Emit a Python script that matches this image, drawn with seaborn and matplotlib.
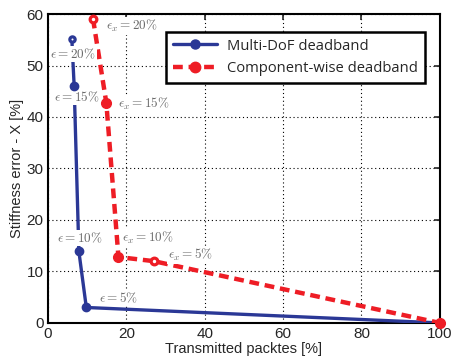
import matplotlib
matplotlib.use("Agg")
import matplotlib.pyplot as plt
from matplotlib.lines import Line2D
import seaborn as sns
import pandas as pd

# Data
multi_x = [6.1, 6.7, 7.9, 9.8, 100]
multi_y = [55.2, 46.0, 13.9, 3.0, 0.0]
multi_hollow = [True, False, False, False, False]
multi_labels = [r"$\epsilon = 20\%$", r"$\epsilon = 15\%$", r"$\epsilon = 10\%$", r"$\epsilon = 5\%$"]
multi_label_pos = [(6.4, 52.2), (7.4, 43.9), (8.2, 16.5), (17.9, 4.8)]

comp_x = [11.5, 14.9, 18.0, 27.0, 100]
comp_y = [59.1, 42.8, 12.8, 12.0, 0.0]
comp_hollow = [True, False, False, True, False]
comp_labels = [r"$\epsilon_x = 20\%$", r"$\epsilon_x = 15\%$", r"$\epsilon_x = 10\%$", r"$\epsilon_x = 5\%$"]
comp_label_pos = [(21.5, 57.7), (24.4, 42.5), (25.6, 16.5), (36.4, 13.2)]

series_names = ["Multi-DoF deadband", "Component-wise deadband"]
x_ticks = [0, 20, 40, 60, 80, 100]
y_ticks = [0, 10, 20, 30, 40, 50, 60]

blue = "#2b3896"
red = "#ee1d25"

sns.set_style("white")
plt.rcParams["font.family"] = ["Liberation Sans", "DejaVu Sans"]
plt.rcParams["mathtext.fontset"] = "cm"

fig = plt.figure(figsize=(4.52, 3.6), dpi=100)
ax = fig.add_axes([0.106, 0.103, 0.867, 0.858])

df1 = pd.DataFrame({"x": multi_x, "y": multi_y, "hollow": multi_hollow})
df2 = pd.DataFrame({"x": comp_x, "y": comp_y, "hollow": comp_hollow})

dash = (0, (2.2, 1.3))
sns.lineplot(data=df1, x="x", y="y", ax=ax, sort=False, color=blue, lw=2.4,
             legend=False, zorder=3)
sns.lineplot(data=df2, x="x", y="y", ax=ax, sort=False, color=red, lw=3.2,
             linestyle=dash, legend=False, zorder=3)

# markers (above label boxes)
for df, c, ms in ((df1, blue, 6.0), (df2, red, 7.0)):
    solid = df[~df["hollow"]]
    hol = df[df["hollow"]]
    ax.plot(solid["x"], solid["y"], "o", ms=ms, mfc=c, mec=c, mew=1, zorder=6, clip_on=False)
    ax.plot(hol["x"], hol["y"], "o", ms=ms - 2.2, mfc="white", mec=c, mew=2.3, zorder=6, clip_on=False)

for t, (x, y) in zip(multi_labels + comp_labels, multi_label_pos + comp_label_pos):
    ax.text(x, y, t, ha="center", va="center", fontsize=9.5, color="#6a6a6a",
            zorder=4, bbox=dict(facecolor="white", edgecolor="none", pad=0.6))

ax.set_xlim(0, 100)
ax.set_ylim(0, 60)
ax.set_xticks(x_ticks)
ax.set_yticks(y_ticks)
ax.tick_params(direction="in", top=True, right=True, labelsize=11, length=4, width=1.2, pad=3)
ax.grid(True, linestyle=(0, (1, 2.5)), color="black", lw=0.8)
ax.set_axisbelow(True)
for s in ax.spines.values():
    s.set_color("black")
    s.set_linewidth(1.5)
ax.set_xlabel("Transmitted packtes [%]", fontsize=10.5, labelpad=1)
ax.set_ylabel("Stiffness error - X [%]", fontsize=10.5, labelpad=2)

handles = [Line2D([], [], color=blue, lw=2.4, marker="o", ms=6.5),
           Line2D([], [], color=red, lw=3.2, linestyle=dash, marker="o", ms=7.5)]
leg = ax.legend(handles, series_names, loc="upper right", bbox_to_anchor=(0.962, 0.942),
                borderaxespad=0, handlelength=3.0, frameon=True,
                fancybox=False, borderpad=0.45, labelspacing=0.5, handletextpad=0.7,
                prop={"family": ["Open Sans", "DejaVu Sans"], "size": 10.6})
leg.get_frame().set_edgecolor("black")
leg.get_frame().set_linewidth(1.8)
leg.get_frame().set_alpha(1)
leg.set_zorder(10)

fig.savefig("out.png", dpi=100)
